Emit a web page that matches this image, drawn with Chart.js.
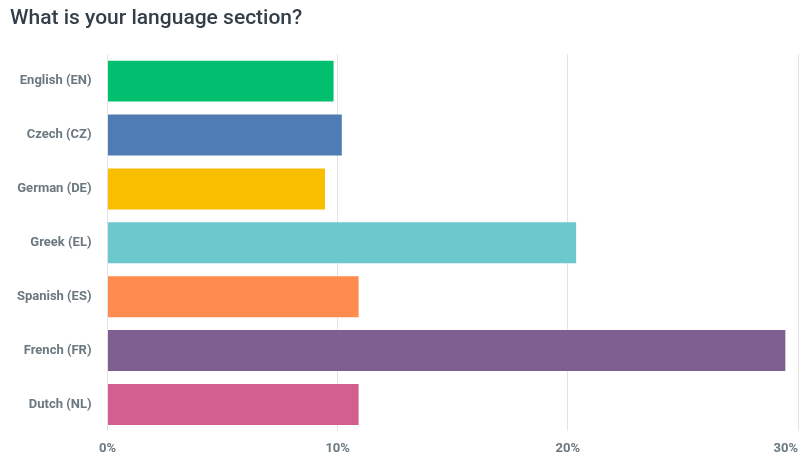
<!DOCTYPE html>
<html>
<head>
<meta charset="utf-8">
<script src="https://cdn.jsdelivr.net/npm/chart.js@4"></script>
<style>
html,body{margin:0;padding:0;background:#fff;}
#wrap{width:810px;height:475px;position:relative;}
</style>
</head>
<body>
<div id="wrap"><canvas id="c"></canvas></div>
<script>
const titleText = "What is your language section?";
const categories = ["English (EN)", "Czech (CZ)", "German (DE)", "Greek (EL)", "Spanish (ES)", "French (FR)", "Dutch (NL)"];
const percentages = [9.82, 10.18, 9.45, 20.36, 10.91, 29.45, 10.91];
const barColors = ["#00bf6f", "#507cb6", "#f9be00", "#6bc8cd", "#ff8b4f", "#7f5f90", "#d25f90"];
const xTicks = [0, 10, 20, 30];

const lastTickRightAlign = {
  id: 'lastTickRightAlign',
  beforeDraw(chart) {
    const items = chart.scales.x.getLabelItems();
    if (items.length) {
      items[items.length - 1].options.textAlign = 'right';
    }
  }
};

new Chart(document.getElementById('c'), {
  type: 'bar',
  data: {
    labels: categories,
    datasets: [{
      data: percentages,
      backgroundColor: barColors,
      borderWidth: 0,
      categoryPercentage: 0.8,
      barPercentage: 0.95
    }]
  },
  plugins: [lastTickRightAlign],
  options: {
    indexAxis: 'y',
    responsive: true,
    maintainAspectRatio: false,
    animation: false,
    layout: { padding: { left: 10, right: 0, top: 6, bottom: 8 } },
    plugins: {
      legend: { display: false },
      tooltip: { enabled: false },
      title: {
        display: true,
        text: titleText,
        align: 'start',
        color: '#333e48',
        font: { family: 'Roboto', size: 21, weight: '500' },
        padding: { top: 0, bottom: 23 }
      }
    },
    scales: {
      x: {
        min: 0, max: 30,
        afterBuildTicks: (s) => { s.ticks = xTicks.map(v => ({ value: v })); },
        afterFit: (s) => { s.paddingRight = 12; },
        ticks: {
          callback: (v) => v + '%',
          color: '#6b787f',
          font: { family: 'Roboto', size: 13, weight: 'bold' },
          padding: 10,
          maxRotation: 0
        },
        grid: { color: '#e3e3e3', drawTicks: false, lineWidth: 1 },
        border: { display: false }
      },
      y: {
        afterFit: (s) => { s.width = 97.5; },
        ticks: {
          color: '#6b787f',
          font: { family: 'Roboto', size: 13, weight: 'bold' },
          padding: 16
        },
        grid: { display: false, drawTicks: false },
        border: { display: false }
      }
    }
  }
});
</script>
</body>
</html>
